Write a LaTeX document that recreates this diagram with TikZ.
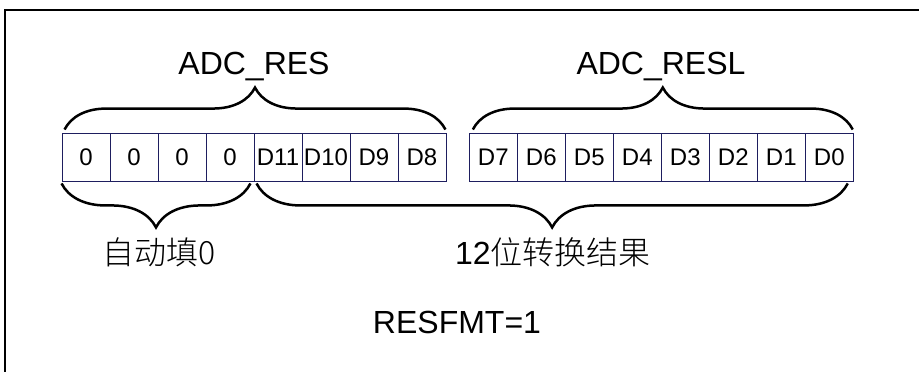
\documentclass[tikz,border=0pt]{standalone}
\usepackage{fontspec}
\setmainfont{Liberation Sans}
\newfontfamily\cjk{Noto Sans CJK SC Light}
\usepackage{xcolor}
\usepackage{tikz}
\usetikzlibrary{decorations.pathreplacing, positioning}

\definecolor{cellline}{RGB}{30,30,95}

\begin{document}
\begin{tikzpicture}[x=1pt, y=1pt,
  bitcell/.style={draw=cellline, line width=0.9pt, minimum width=48pt, minimum height=48pt,
    inner sep=0pt, font=\fontsize{24}{27}\selectfont},
  bigbrace/.style={decorate, decoration={brace, amplitude=#1}, line width=2.5pt},
  label/.style={font=\fontsize{32}{38}\selectfont}]
\useasboundingbox (0,0) rectangle (919,372);
% frame
\draw[line width=2pt] (5,0) -- (5,362) -- (919,362);
% ADC_RES cells
\foreach \v [count=\i] in {0,0,0,0,D11,D10,D9,D8}
  \node[bitcell] (r\i) at (86+48*\i-48,215) {\v};
% ADC_RESL cells
\foreach \v [count=\i] in {D7,D6,D5,D4,D3,D2,D1,D0}
  \node[bitcell] (l\i) at (493.3+48*\i-48,215) {\v};
% register braces
\draw[bigbrace=42pt] ([xshift=3pt,yshift=3pt]r1.north west) -- ([xshift=-1pt,yshift=3pt]r8.north east);
\draw[bigbrace=42pt] ([xshift=4pt,yshift=3pt]l1.north west) -- ([xshift=-1pt,yshift=3pt]l8.north east);
\node[label] (res) at (254,305) {ADC\_RES};
\node[label] (resl) at (661,305) {ADC\_RESL};
% result braces
\draw[bigbrace=44pt] ([xshift=-4pt,yshift=-2pt]r4.south east) -- ([yshift=-2pt]r1.south west);
\draw[bigbrace=44pt] ([xshift=-6pt,yshift=-2pt]l8.south east) -- ([xshift=3pt,yshift=-2pt]r5.south west);
\node[label] (fill) at (159,120) {\cjk 自动填0};
\node[label] (conv) at (553,120) {12{\cjk 位转换结果}};
\node[label] (fmt) at (457,50) {RESFMT=1};
\end{tikzpicture}
\end{document}
